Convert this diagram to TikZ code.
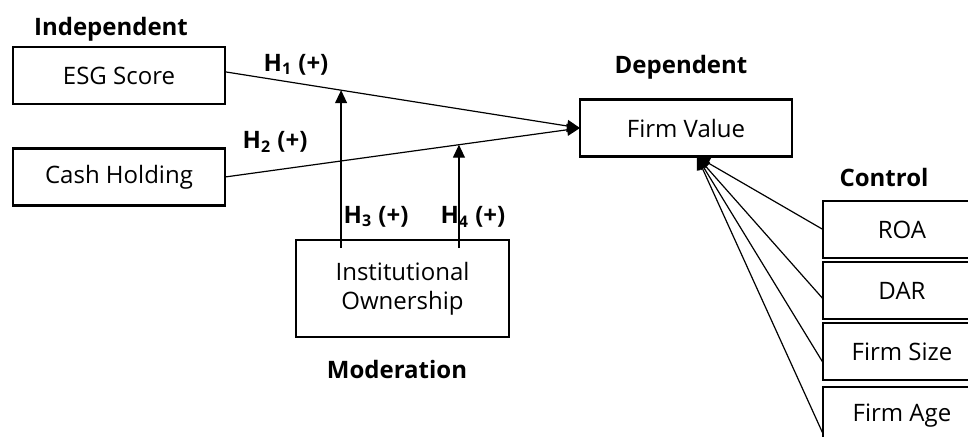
\documentclass[tikz,border=0pt]{standalone}
\usepackage{fontspec}
\setmainfont{Open Sans}
\usetikzlibrary{arrows.meta,positioning,calc}

\begin{document}
\begin{tikzpicture}[x=0.5pt,y=-0.5pt,->,>={Triangle[length=6.5pt,width=6pt]},line width=0.6pt,
	var node/.style={rectangle,draw,line width=1.2pt,outer sep=0pt,minimum width=106pt,minimum height=28.5pt,font=\fontsize{12}{14.5}\selectfont,align=center},
	ctrl node/.style={var node,minimum width=79pt},
	head node/.style={font=\fontsize{12}{14}\selectfont\bfseries,anchor=base},
	hyp node/.style={font=\fontsize{12}{14}\selectfont\bfseries,inner sep=1pt}]

	\useasboundingbox (0,0) rectangle (968,436);

	\node[head node] (indep) at (111,35) {Independent};
	\node[var node] (esg) at (119,75.5) {ESG Score};
	\node[var node] (cash) at (119,177) {Cash Holding};

	\node[head node] (dep) at (681,73) {Dependent};
	\node[var node] (fv) at (686,128) {Firm Value};

	\node[var node,minimum width=106.5pt,minimum height=48.5pt] (inst) at (402.5,288.5) {Institutional\\Ownership};
	\node[head node] (mod) at (397,378) {Moderation};

	\node[head node] (ctrl) at (884,186.5) {Control};
	\node[ctrl node] (roa) at (902,229.5) {ROA};
	\node[ctrl node] (dar) [below = 2pt of roa] {DAR};
	\node[ctrl node] (size) [below = 2pt of dar] {Firm Size};
	\node[ctrl node] (age) [below = 3.5pt of size] {Firm Age};

	\path (esg.2) edge node[hyp node,pos=0.2,yshift=9.3pt] {H\textsubscript{1} (+)}
			node[coordinate,pos=0.327] (m3) {} (fv.west)
		(cash.east) edge node[hyp node,pos=0.141,yshift=14pt] {H\textsubscript{2} (+)}
			node[coordinate,pos=0.659] (m4) {} (fv.west);

	\coordinate (s3) at ($(m3 |- inst.north)+(0,8)$);
	\coordinate (s4) at ($(m4 |- inst.north)+(0,8)$);

	\path (s3) edge node[hyp node,pos=0.2,right] {H\textsubscript{3} (+)} (m3)
		(s4) edge node[hyp node,pos=0.3,xshift=7pt] {H\textsubscript{4} (+)} (m4);

	\coordinate (fvb) at ($(fv.south)+(11,0)$);
	\path (roa.west) edge (fvb)
		(dar.186.9) edge (fvb)
		(size.188.3) edge (fvb)
		(age.193.9) edge (fvb);
\end{tikzpicture}
\end{document}
